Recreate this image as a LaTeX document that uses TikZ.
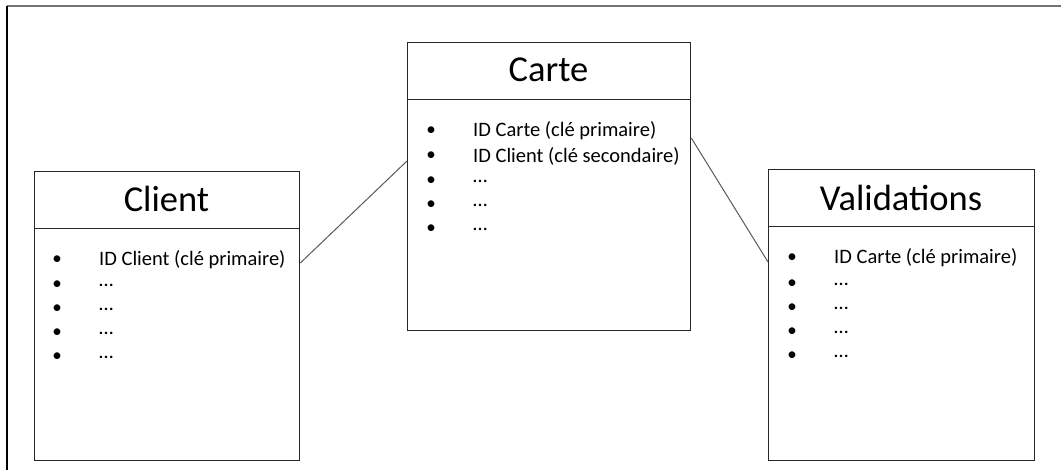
\documentclass[tikz,border=0pt]{standalone}
\usepackage{fontspec}
\setmainfont{Carlito}
\usetikzlibrary{calc}
\begin{document}
\begin{tikzpicture}[x=1pt,y=-1pt,
  box/.style={draw=black!85, line width=1.3pt, fill=white, inner sep=0pt, anchor=north west},
  divider/.style={draw=black!85, line width=1pt},
  title/.style={font=\fontsize{36.5}{40}\selectfont, inner sep=0pt, anchor=center},
  item/.style={font=\fontsize{20.5}{22}\selectfont, inner sep=0pt, anchor=west},
  bul/.style={font=\fontsize{19}{22}\selectfont, inner sep=0pt, anchor=center},
  link/.style={draw=black!65, line width=1pt},
  frame/.style={line width=1.5pt}]
\useasboundingbox (0,0) rectangle (1061,470);
% frame
\draw[frame, draw=black!55] (7,6) -- (1061,6);
\draw[frame, draw=black] (7,6) -- (7,470);

% boxes
\node[box, minimum width=265pt, minimum height=289pt] (client) at (34,171) {};
\node[box, minimum width=283pt, minimum height=288pt] (carte) at (407,42) {};
\node[box, minimum width=266pt, minimum height=291pt] (validations) at (768,169) {};

\draw[divider] ([yshift=-58pt]client.north west) -- ([yshift=-58pt]client.north east);
\draw[divider] ([yshift=-58pt]carte.north west) -- ([yshift=-58pt]carte.north east);
\draw[divider] ([yshift=-58pt]validations.north west) -- ([yshift=-58pt]validations.north east);

% titles
\node[title] (client-title) at (166.5,199) {Client};
\node[title] (carte-title) at (548.5,70) {Carte};
\node[title] (validations-title) at (901,198) {Validations};

% Client items
\foreach \y [count=\i] in {260,285,309,333,357} {
  \node[bul] (client-b\i) at (57,\y) {•};
}
\node[item] (client-i1) at (99,260) {ID Client (clé primaire)};
\node[item] (client-i2) at (99,285) {…};
\node[item] (client-i3) at (99,309) {…};
\node[item] (client-i4) at (99,333) {…};
\node[item] (client-i5) at (99,357) {…};

% Carte items
\foreach \y [count=\i] in {131,156,181,205,229} {
  \node[bul] (carte-b\i) at (431,\y) {•};
}
\node[item] (carte-i1) at (473,131) {ID Carte (clé primaire)};
\node[item] (carte-i2) at (473,156) {ID Client (clé secondaire)};
\node[item] (carte-i3) at (473,181) {…};
\node[item] (carte-i4) at (473,205) {…};
\node[item] (carte-i5) at (473,229) {…};

% Validations items
\foreach \y [count=\i] in {258,284,308,332,356} {
  \node[bul] (validations-b\i) at (792,\y) {•};
}
\node[item] (validations-i1) at (834,258) {ID Carte (clé primaire)};
\node[item] (validations-i2) at (834,284) {…};
\node[item] (validations-i3) at (834,308) {…};
\node[item] (validations-i4) at (834,332) {…};
\node[item] (validations-i5) at (834,356) {…};

% connectors
\draw[link] ($(client.north east)+(0,92)$) -- ($(carte.north west)+(0,119)$);
\draw[link] ($(carte.north east)+(0,96)$) -- ($(validations.north west)+(0,93)$);
\end{tikzpicture}
\end{document}
